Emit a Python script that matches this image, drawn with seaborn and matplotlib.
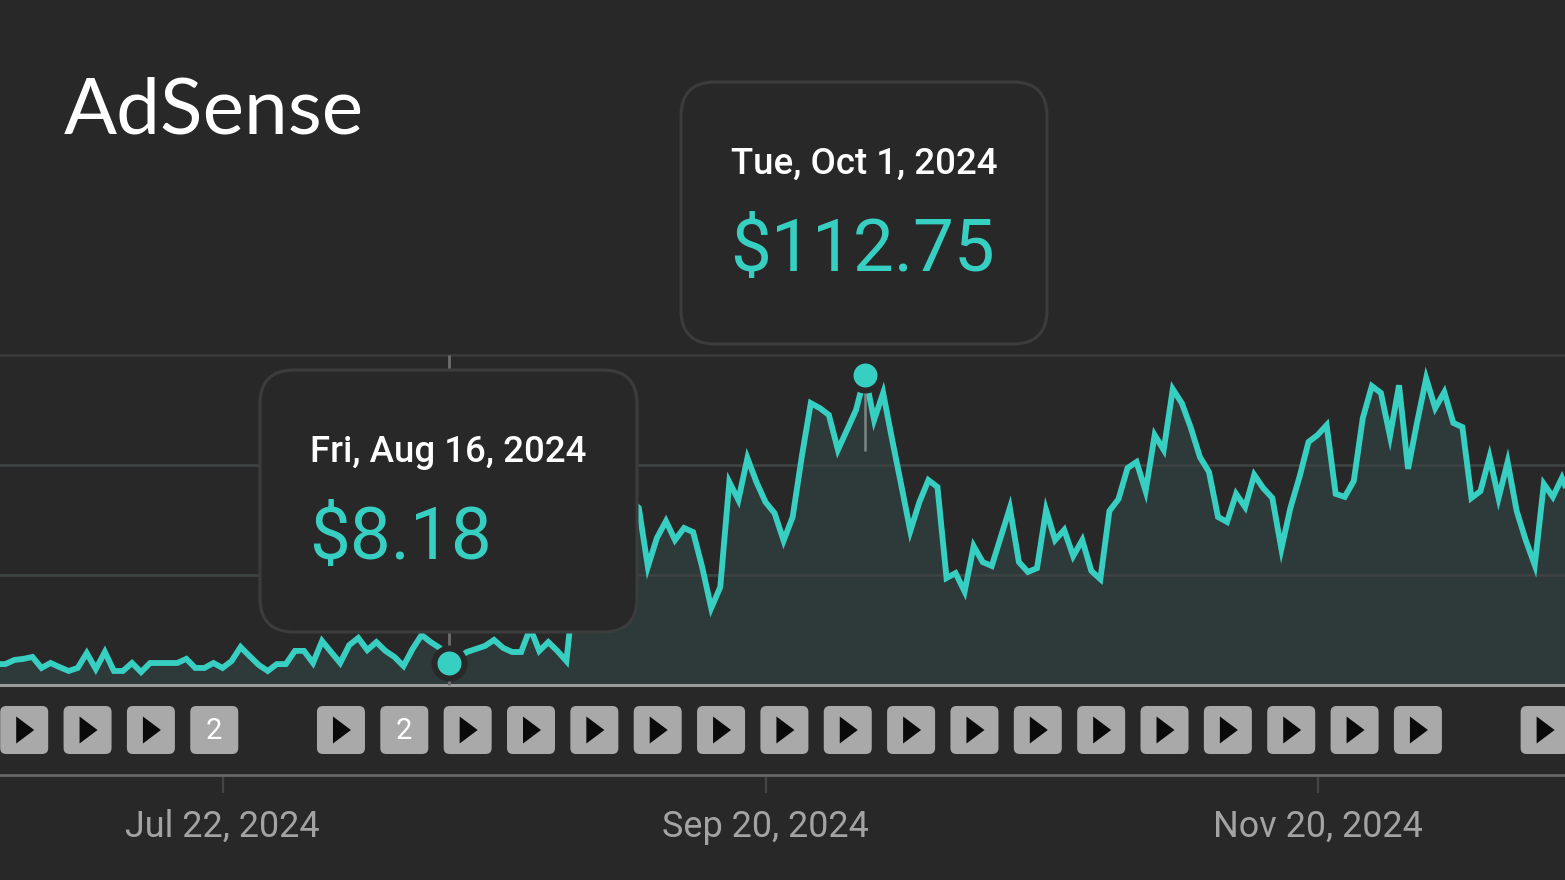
import matplotlib
matplotlib.use("Agg")
import matplotlib.pyplot as plt
import matplotlib.dates as mdates
from matplotlib.patches import FancyBboxPatch, Polygon
import numpy as np
import pandas as pd
import seaborn as sns

# daily earnings in dollars (days behind the tooltip are estimates)
start_date = "2024-06-27"
earnings = [
    7.6, 7.6, 9.1, 9.5, 10.2, 6.2, 8.0, 6.5, 5.1, 6.2,
    11.6, 5.8, 12.0, 5.1, 5.1, 8.0, 4.7, 8.0, 8.0, 8.0,
    8.0, 9.5, 6.2, 6.2, 8.0, 6.2, 8.7, 13.8, 10.5, 7.3,
    5.1, 7.6, 7.6, 12.4, 12.4, 8.0, 16.0, 12.0, 8.0, 14.5,
    17.1, 12.7, 15.6, 12.4, 10.2, 6.9, 13.1, 18.2, 15.6, 13.5,
    8.18, 9.8, 12.0, 13.1, 14.2, 16.4, 13.5, 12.0, 12.0, 20.7,
    12.4, 15.6, 12.4, 8.7, 40.0, 45.5, 49.8, 56.4, 59.3, 62.9,
    67.3, 64.4, 43.0, 53.5, 59.6, 52.7, 57.1, 55.6, 42.9, 28.0,
    35.6, 73.8, 67.3, 82.5, 73.8, 66.5, 62.5, 52.5, 61.1, 82.9,
    102.5, 100.7, 98.2, 85.5, 92.7, 100.0, 112.75, 96.4, 106.2, 89.1,
    72.7, 56.0, 66.5, 74.5, 72.0, 38.9, 40.7, 34.0, 50.5, 44.7,
    43.3, 53.8, 64.4, 44.7, 41.1, 42.5, 63.6, 52.7, 56.4, 46.9,
    52.7, 41.5, 38.5, 63.3, 67.6, 78.9, 81.1, 70.5, 90.9, 85.5,
    107.6, 102.5, 93.5, 82.9, 77.5, 61.1, 59.3, 69.5, 64.7, 76.4,
    71.6, 68.0, 49.5, 64.4, 75.6, 88.4, 90.9, 94.5, 69.5, 68.4,
    74.2, 97.1, 108.7, 106.2, 90.5, 109.0, 78.6, 95.6, 111.5, 100.7,
    106.5, 95.3, 93.8, 68.0, 70.5, 82.9, 68.0, 81.1, 63.3, 52.7,
    43.6, 73.1, 68.4, 75.3, 67.3,
]
grid_values = [40, 80, 120]
tick_dates = ["2024-07-22", "2024-09-20", "2024-11-20"]

chip_dates = ["2024-06-30", "2024-07-07", "2024-07-14", "2024-07-21", "2024-08-04",
              "2024-08-11", "2024-08-18", "2024-08-25", "2024-09-01", "2024-09-08",
              "2024-09-15", "2024-09-22", "2024-09-29", "2024-10-06", "2024-10-13",
              "2024-10-20", "2024-10-27", "2024-11-03", "2024-11-10", "2024-11-17",
              "2024-11-24", "2024-12-01", "2024-12-15"]
chip_labels = {"2024-07-21": "2", "2024-08-11": "2"}

hover_dates = ["2024-08-16", "2024-10-01"]
hover_titles = ["Fri, Aug 16, 2024", "Tue, Oct 1, 2024"]
hover_values = ["$8.18", "$112.75"]

BG = "#282828"
TEAL = "#38cfc3"
FILL = "#2e3a3a"
GRID = "#3a3a3a"
W, H = 1565, 880

sns.set_theme(style="dark", rc={"figure.facecolor": BG, "axes.facecolor": BG})
plt.rcParams["font.family"] = ["Roboto", "DejaVu Sans"]

df = pd.DataFrame({"date": pd.date_range(start_date, periods=len(earnings)), "earnings": earnings})

fig = plt.figure(figsize=(W / 100, H / 100), dpi=100)

# chart area: bottom spine sits at y=775, the $120 line at y=355
ax = fig.add_axes([0, (H - 775) / H, 1, (775 - 355) / H])
ax.set_xlim(pd.Timestamp("2024-07-22") - pd.Timedelta(days=24.586),
            pd.Timestamp("2024-07-22") + pd.Timedelta(days=148.34))
ax.set_ylim(-90 / 2.75, 120)

for g in grid_values:
    ax.axhline(g, color=GRID, lw=1.9, zorder=1, clip_on=False)
ax.fill_between(df["date"], 0, df["earnings"], color=FILL, lw=0, zorder=1.5)
for g in grid_values[:2]:
    ax.axhline(g, color="#3d4242", lw=1.9, zorder=1.6)
ax.axhline(0, color="#9b9b9b", lw=2.2, zorder=2)

sns.lineplot(data=df, x="date", y="earnings", ax=ax, color=TEAL, lw=4.2, zorder=3,
             estimator=None, errorbar=None)
ax.lines[-1].set_solid_joinstyle("miter")
ax.lines[-1].set_solid_capstyle("butt")

hover = df[df["date"].isin(pd.to_datetime(hover_dates))]
ax.plot([pd.Timestamp(hover_dates[0])] * 2, [0, 120], color="#6e6e6e", lw=2.0, zorder=2.5,
        solid_capstyle="butt")
ax.plot([pd.Timestamp(hover_dates[1])] * 2, [112.75, 85], color="#7c8685", lw=1.8, zorder=3.5,
        solid_capstyle="butt")
sns.scatterplot(data=hover, x="date", y="earnings", ax=ax, s=672, color=BG, linewidth=0, zorder=4,
                clip_on=False)
sns.scatterplot(data=hover, x="date", y="earnings", ax=ax, s=298, color=TEAL, linewidth=0, zorder=5,
                clip_on=False)

ax.set_xticks(pd.to_datetime(tick_dates))
ax.xaxis.set_major_formatter(mdates.DateFormatter("%b %d, %Y"))
ax.tick_params(axis="x", length=13, width=1.6, color="#444444", labelcolor="#a3a3a3",
               labelsize=25.9, pad=11.5, bottom=True, direction="out")
ax.set_yticks([])
ax.set_xlabel("")
ax.set_ylabel("")
ax.grid(False)
for side in ["top", "left", "right"]:
    ax.spines[side].set_visible(False)
ax.spines["bottom"].set_color("#666666")
ax.spines["bottom"].set_linewidth(2.0)

# overlay in picture pixels for the chips, tooltips and logo
ov = fig.add_axes([0, 0, 1, 1], zorder=10)
ov.set_xlim(0, W)
ov.set_ylim(H, 0)
ov.axis("off")
ov.patch.set_alpha(0)


def date_px(d):
    return ax.transData.transform((mdates.date2num(pd.Timestamp(d)), 0))[0]


for d in chip_dates:
    cx = date_px(d) + 0.8
    ov.add_patch(FancyBboxPatch((cx - 24 + 6, 706 + 6), 36, 36, boxstyle="round,pad=6,rounding_size=6",
                                fc="#a9a9a9", ec="none"))
    if d in chip_labels:
        ov.text(cx, 731, chip_labels[d], color="white", fontsize=21, ha="center", va="center")
    else:
        ov.add_patch(Polygon([(cx - 8, 716.5), (cx + 10, 730), (cx - 8, 743.5)], fc="#0a0a0a", ec="none"))


def tooltip(x0, x1, y0, y1, title, value, value_x, value_ha):
    r = 34
    ov.add_patch(FancyBboxPatch((x0 + r, y0 + r), x1 - x0 - 2 * r, y1 - y0 - 2 * r,
                                boxstyle=f"round,pad={r},rounding_size={r}",
                                fc=BG, ec="#3c3c3c", lw=2.2))
    ov.text((x0 + x1) / 2, y0 + 82.5, title, color="white", fontsize=26.4, fontweight="medium",
            ha="center", va="center")
    ov.text(value_x, y0 + 169, value, color=TEAL, fontsize=52.4, ha=value_ha, va="center")


tooltip(260, 637, 370, 632, hover_titles[0], hover_values[0], 309, "left")
tooltip(681, 1047, 82, 344, hover_titles[1], hover_values[1], 730, "left")

ov.text(64, 133, "AdSense", color="white", fontsize=56.5, family=["Lato", "DejaVu Sans"],
        ha="left", va="baseline")

fig.savefig("out.png", dpi=100, facecolor=BG)
